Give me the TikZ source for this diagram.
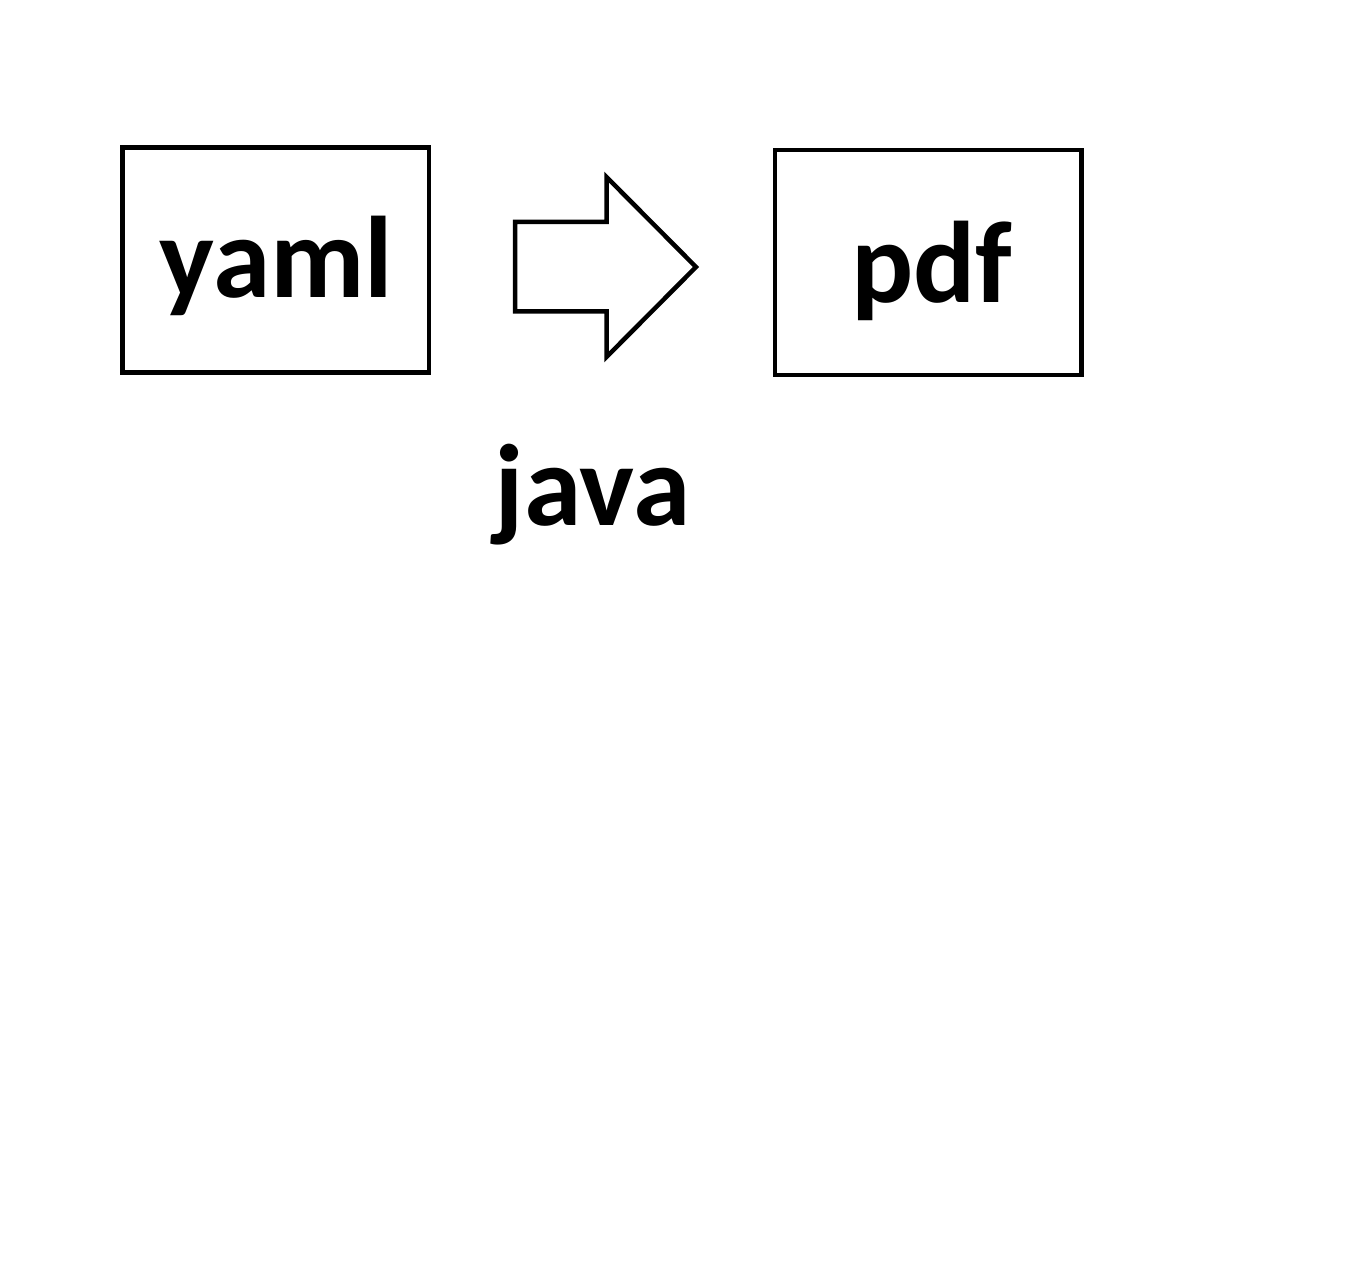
\documentclass[tikz,border=0pt]{standalone}
\usepackage{fontspec}
\setmainfont{Carlito}
\begin{document}
\begin{tikzpicture}[x=1pt,y=-1pt,
  boxst/.style={draw=black,line width=4.5pt,minimum width=306.5pt,minimum height=225pt,inner sep=0pt},
  lbl/.style={font=\fontsize{116}{118}\selectfont\bfseries,anchor=base,inner sep=0pt}]
\useasboundingbox (0,0) rectangle (1360,1281);
\node[boxst] (yamlbox) at (275.75,260) {};
\node[boxst] (pdfbox) at (928.25,262.5) {};
\node[lbl] (yaml) at (276.5,298) {yaml};
\node[lbl] (pdf) at (932,303) {pdf};
\node[lbl] (java) at (592.5,525) {java};
\draw[line width=4.5pt,line join=miter] (515,222) -- (606.5,222) -- (606.5,177) -- (696,267) -- (606.5,357) -- (606.5,311.5) -- (515,311.5) -- cycle;
\end{tikzpicture}
\end{document}
